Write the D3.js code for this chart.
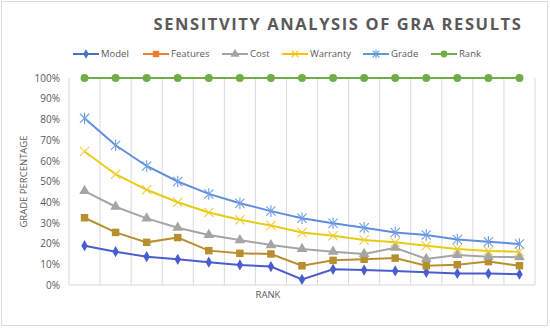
<!DOCTYPE html>
<html>
<head>
<meta charset="utf-8">
<script src="https://cdn.jsdelivr.net/npm/d3@7"></script>
<style>
  body { margin: 0; background: #fff; }
  svg { font-family: "Open Sans", "Liberation Sans", sans-serif; }
</style>
</head>
<body>
<svg width="550" height="328"></svg>
<script>
// ranks 1..15
var ranks = d3.range(1, 16);
var model    = [19, 16.1, 13.7, 12.4, 11, 9.7, 8.9, 2.7, 7.6, 7.2, 6.8, 6.1, 5.6, 5.5, 5.2];
var features = [32.5, 25.4, 20.6, 22.9, 16.6, 15.3, 15, 9.3, 11.9, 12.4, 13, 9.3, 9.8, 11.3, 9.3];
var cost     = [45.4, 37.8, 32.2, 27.7, 24.2, 21.7, 19.3, 17.4, 16.1, 15, 18, 12.6, 14.5, 13.7, 13.4];
var warranty = [64.5, 53.5, 46, 40, 35, 31.5, 28.7, 25.4, 23.8, 21.7, 20.6, 19, 17.4, 16.4, 16.1];
var grade    = [80.5, 67.5, 57.5, 50, 44, 39.5, 35.7, 32.2, 29.8, 27.7, 25.4, 24.2, 22, 20.9, 19.8];
var rank     = [100, 100, 100, 100, 100, 100, 100, 100, 100, 100, 100, 100, 100, 100, 100];
var yTicks = [0, 10, 20, 30, 40, 50, 60, 70, 80, 90, 100];

var series = [
  {name: "Model",    values: model,    line: "#4a5dcf", legend: "#4472c4", mark: "diamond"},
  {name: "Features", values: features, line: "#b88f2e", legend: "#ed7d31", mark: "square"},
  {name: "Cost",     values: cost,     line: "#a5a5a5", legend: "#a5a5a5", mark: "triangle"},
  {name: "Warranty", values: warranty, line: "#e6cc12", legend: "#ffc000", mark: "x"},
  {name: "Grade",    values: grade,    line: "#5f8ede", legend: "#5b9bd5", mark: "star"},
  {name: "Rank",     values: rank,     line: "#70ad47", legend: "#70ad47", mark: "circle"}
];
var legendX = [73, 143, 222, 282, 363, 431];

var svg = d3.select("svg");
var pLeft = 69, pRight = 535, pTop = 78, pBottom = 285;

// outer border
svg.append("rect").attr("x", 1.5).attr("y", 1.5).attr("width", 546).attr("height", 324)
  .attr("fill", "#fff").attr("stroke", "#d9d9d9");

var x = d3.scaleBand().domain(ranks).range([pLeft, pRight]);
var y = d3.scaleLinear().domain([0, 100]).range([pBottom, pTop]);

// vertical gridlines at category boundaries
var g = svg.append("g");
g.selectAll(".vgrid").data(ranks.concat([16]))
  .enter().append("line")
    .attr("x1", function (d) { return d <= 15 ? x(d) : pRight; })
    .attr("x2", function (d) { return d <= 15 ? x(d) : pRight; })
    .attr("y1", pTop).attr("y2", pBottom)
    .attr("stroke", "#d9d9d9").attr("stroke-width", 1);

g.append("line").attr("x1", pLeft).attr("x2", pRight).attr("y1", pBottom).attr("y2", pBottom)
  .attr("stroke", "#d9d9d9");

// y axis labels
var yAxis = d3.axisLeft(y).tickValues(yTicks).tickSize(0).tickPadding(9)
  .tickFormat(function (d) { return d + "%"; });
svg.append("g").attr("transform", "translate(" + pLeft + ",0)").call(yAxis)
  .call(function (a) { a.select(".domain").remove(); })
  .selectAll("text").attr("fill", "#595959").style("font-size", "10px")
  .style("font-family", "'Open Sans', sans-serif");

// axis titles
svg.append("text").attr("transform", "translate(24," + (pTop + pBottom) / 2 + ")rotate(-90)")
  .attr("text-anchor", "middle").attr("dy", "0.35em")
  .attr("fill", "#595959").style("font-size", "9.5px").text("GRADE PERCENTAGE");
svg.append("text").attr("x", 268).attr("y", 298).attr("text-anchor", "middle")
  .attr("fill", "#595959").style("font-size", "9.5px").text("RANK");

// title
svg.append("text").attr("x", 338).attr("y", 30).attr("text-anchor", "middle")
  .attr("fill", "#595959").style("font-size", "16.5px").style("font-weight", "bold")
  .style("letter-spacing", "1.6px").text("SENSITVITY ANALYSIS OF GRA RESULTS");

function drawMarker(sel, type, color, s) {
  var r = s * 1.4;
  if (type === "diamond") {
    sel.append("path").attr("d", d3.symbol(d3.symbolDiamond, s * 11)()).attr("fill", color);
  } else if (type === "square") {
    sel.append("path").attr("d", d3.symbol(d3.symbolSquare, s * 17)()).attr("fill", color);
  } else if (type === "triangle") {
    sel.append("path").attr("d", d3.symbol(d3.symbolTriangle, s * 15)()).attr("fill", color);
  } else if (type === "circle") {
    sel.append("path").attr("d", d3.symbol(d3.symbolCircle, s * 15)()).attr("fill", color);
  } else {
    sel.append("path").attr("d", "M" + -r + "," + -r + "L" + r + "," + r + "M" + -r + "," + r + "L" + r + "," + -r)
      .attr("stroke", color).attr("stroke-width", 1.1).attr("fill", "none");
    if (type === "star") {
      sel.append("path").attr("d", "M0," + -r * 1.25 + "L0," + r * 1.25)
        .attr("stroke", color).attr("stroke-width", 1.1);
    }
  }
}

var line = d3.line()
  .x(function (d, i) { return x(ranks[i]) + x.bandwidth() / 2; })
  .y(function (d) { return y(d); });

series.forEach(function (s) {
  svg.append("path").datum(s.values).attr("d", line)
    .attr("fill", "none").attr("stroke", s.line).attr("stroke-width", 2);
  var markColor = s.mark === "x" ? "#f2cb3a" : (s.mark === "star" ? "#6f9de6" : s.line);
  svg.selectAll(".m-" + s.name).data(s.values).enter().append("g")
    .attr("transform", function (d, i) {
      return "translate(" + (x(ranks[i]) + x.bandwidth() / 2) + "," + y(d) + ")";
    })
    .each(function () { drawMarker(d3.select(this), s.mark, markColor, 3.3); });
});

// legend
var leg = svg.append("g");
series.forEach(function (s, i) {
  var lg = leg.append("g").attr("transform", "translate(" + legendX[i] + ",54)");
  lg.append("line").attr("x1", 0).attr("x2", 26).attr("stroke", s.legend).attr("stroke-width", 2);
  var mk = lg.append("g").attr("transform", "translate(13,0)");
  drawMarker(mk, s.mark, s.legend, 2.4);
  lg.append("text").attr("x", 28).attr("dy", "0.35em").attr("fill", "#595959")
    .style("font-size", "9.5px").text(s.name);
});
</script>
</body>
</html>
